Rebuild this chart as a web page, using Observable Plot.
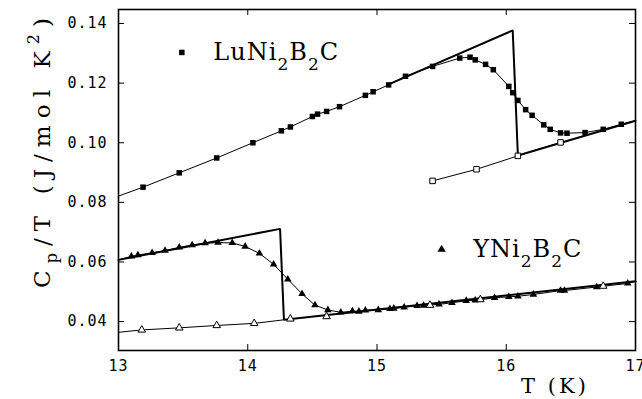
<!DOCTYPE html>
<html>
<head>
<meta charset="utf-8">
<script src="https://cdn.jsdelivr.net/npm/d3@7"></script>
<script src="https://cdn.jsdelivr.net/npm/@observablehq/plot@0.6"></script>
<style>
  body { margin: 0; background: #fff; }
</style>
</head>
<body>
<div id="chart"></div>
<script>
// Specific heat C_p/T (J/mol K^2) versus temperature T (K)

// LuNi2B2C, superconducting-state data (filled squares)
const luT  = [13.19, 13.47, 13.76, 14.04, 14.26, 14.33, 14.50, 14.54, 14.61, 14.71, 14.91, 14.97, 15.09, 15.22, 15.43, 15.64, 15.72, 15.76, 15.84, 15.90, 16.02, 16.05, 16.09, 16.15, 16.20, 16.29, 16.34, 16.42, 16.47, 16.61, 16.75, 16.89];
const luCp = [0.0851, 0.0899, 0.0949, 0.1000, 0.1040, 0.1053, 0.1088, 0.1096, 0.1105, 0.1121, 0.1159, 0.1171, 0.1194, 0.1223, 0.1256, 0.1284, 0.1287, 0.1278, 0.1263, 0.1245, 0.1189, 0.1168, 0.1142, 0.1111, 0.1092, 0.1060, 0.1045, 0.1033, 0.1032, 0.1034, 0.1045, 0.1062];
// fitted curve values at the plot edges (T = 13 and T = 17)
const luCurveEnds = [0.0821, 0.1074];
// LuNi2B2C, normal-state data in field (open squares)
const luNT  = [15.43, 15.77, 16.09, 16.42];
const luNCp = [0.0872, 0.0911, 0.0956, 0.1001];
// LuNi2B2C, entropy-conserving idealized transition
const luIdealT  = [15.09, 16.05, 16.09, 17.0];
const luIdealCp = [0.1196, 0.1377, 0.0957, 0.1074];

// YNi2B2C, superconducting-state data (filled triangles)
const yT  = [13.10, 13.15, 13.26, 13.36, 13.47, 13.57, 13.67, 13.77, 13.88, 13.98, 14.09, 14.20, 14.31, 14.42, 14.52, 14.62, 14.72, 14.81, 14.86, 14.91, 15.01, 15.10, 15.13, 15.21, 15.31, 15.36, 15.48, 15.58, 15.69, 15.76, 15.91, 16.02, 16.09, 16.21, 16.42, 16.45, 16.70, 16.94];
const yCp = [0.0619, 0.0623, 0.0631, 0.0638, 0.0649, 0.0657, 0.0663, 0.0665, 0.0664, 0.0652, 0.0629, 0.0592, 0.0542, 0.0493, 0.0455, 0.0439, 0.0431, 0.0435, 0.0434, 0.0438, 0.0439, 0.0443, 0.0444, 0.0448, 0.0453, 0.0454, 0.0458, 0.0463, 0.0470, 0.0471, 0.0480, 0.0483, 0.0485, 0.0491, 0.0504, 0.0504, 0.0516, 0.0528];
const yCurveEnds = [0.0607, 0.0535];
// YNi2B2C, normal-state data (open triangles)
const yNT  = [13.18, 13.47, 13.76, 14.05, 14.33, 14.61, 15.41, 15.80, 16.75];
const yNCp = [0.0372, 0.0379, 0.0387, 0.0394, 0.0409, 0.0417, 0.0455, 0.0474, 0.0519];
// normal-state fit below Tc
const yNLineT  = [13.0, 13.18, 13.47, 13.76, 14.05, 14.28];
const yNLineCp = [0.0364, 0.0372, 0.0379, 0.0387, 0.0394, 0.0406];
// YNi2B2C idealized transition
const yIdealT  = [13.0, 14.25, 14.28, 17.0];
const yIdealCp = [0.0607, 0.0711, 0.0406, 0.0535];

// axes
const xTicks = [13, 14, 15, 16, 17];
const yTicks = [0.04, 0.06, 0.08, 0.10, 0.12, 0.14];
const xDomain = [13, 17];
const yDomain = [0.0303, 0.1447];

// legend entries: compound name pieces and anchor position in data units
const legendNames = [["LuNi", "2", "B", "2", "C"], ["YNi", "2", "B", "2", "C"]];
const legendSymbols = ["square", "triangle"];
const legendT  = [13.49, 15.50];
const legendCp = [0.1303, 0.0642];

const pts = (T, C) => T.map((t, i) => ({T: t, C: C[i]}));
const withEnds = (T, C, ends) => [{T: xDomain[0], C: ends[0]}, ...pts(T, C), {T: xDomain[1], C: ends[1]}];

const W = 642, H = 399;
const mL = 118, mR = 7, mT = 9, mB = 49;
const fw = W - mL - mR, fh = H - mT - mB;
const tickLen = 6;

const legend = legendT.map((t, i) => ({T: t, C: legendCp[i], symbol: legendSymbols[i]}));

const chart = Plot.plot({
  width: W, height: H,
  marginLeft: mL, marginRight: mR, marginTop: mT, marginBottom: mB,
  style: {fontFamily: "DejaVu Sans Mono", fontSize: "15px", color: "black", background: "white", letterSpacing: "1px"},
  x: {domain: xDomain, ticks: xTicks, tickSize: 0, tickPadding: 10, tickFormat: d => String(d), label: null},
  y: {domain: yDomain, ticks: yTicks, tickSize: 0, tickPadding: 11, tickFormat: d => d.toFixed(2), label: null},
  marks: [
    // inward ticks on all four sides
    Plot.ruleX(xTicks, {x: d => d, insetTop: fh - tickLen, stroke: "black", strokeWidth: 1}),
    Plot.ruleX(xTicks, {x: d => d, insetBottom: fh - tickLen, stroke: "black", strokeWidth: 1}),
    Plot.ruleY(yTicks, {y: d => d, insetRight: fw - tickLen, stroke: "black", strokeWidth: 1}),
    Plot.ruleY(yTicks, {y: d => d, insetLeft: fw - tickLen, stroke: "black", strokeWidth: 1}),
    Plot.frame({stroke: "black", strokeWidth: 1.6}),

    // thin curves through the data
    Plot.line(withEnds(luT, luCp, luCurveEnds), {x: "T", y: "C", stroke: "black", strokeWidth: 1}),
    Plot.line(pts(luNT, luNCp), {x: "T", y: "C", stroke: "black", strokeWidth: 1}),
    Plot.line(withEnds(yT, yCp, yCurveEnds), {x: "T", y: "C", stroke: "black", strokeWidth: 1}),
    Plot.line(pts(yNLineT, yNLineCp), {x: "T", y: "C", stroke: "black", strokeWidth: 1}),

    // idealized transitions
    Plot.line(pts(luIdealT, luIdealCp), {x: "T", y: "C", stroke: "black", strokeWidth: 2, strokeLinejoin: "miter"}),
    Plot.line(pts(yIdealT, yIdealCp), {x: "T", y: "C", stroke: "black", strokeWidth: 2, strokeLinejoin: "miter"}),

    // markers
    Plot.dot(pts(luT, luCp), {x: "T", y: "C", symbol: "square", r: 3.1, fill: "black"}),
    Plot.dot(pts(luNT, luNCp), {x: "T", y: "C", symbol: "square", r: 3.1, fill: "white", stroke: "black", strokeWidth: 1}),
    Plot.dot(pts(yT, yCp), {x: "T", y: "C", symbol: "triangle", r: 2.8, fill: "black"}),
    Plot.dot(pts(yNT, yNCp), {x: "T", y: "C", symbol: "triangle", r: 2.8, fill: "white", stroke: "black", strokeWidth: 1}),

    // legend markers
    Plot.dot(legend, {x: "T", y: "C", symbol: "symbol", r: 3.1, fill: "black"})
  ]
});

document.getElementById("chart").appendChild(chart);

const svg = d3.select(chart);
const sx = chart.scale("x"), sy = chart.scale("y");

// legend labels with subscripts
legendNames.forEach((parts, i) => {
  const t = svg.append("text")
    .attr("x", sx.apply(legendT[i]) + 32)
    .attr("y", sy.apply(legendCp[i]) + 8)
    .attr("text-anchor", "start")
    .attr("font-family", "DejaVu Serif")
    .attr("font-size", 24)
    .attr("letter-spacing", "1px")
    .attr("fill", "black");
  parts.forEach((p, j) => {
    const sub = j % 2 === 1;
    t.append("tspan")
      .attr("dy", j === 0 ? 0 : (sub ? 10 : -10))
      .attr("font-size", sub ? 17 : 24)
      .text(p);
  });
});

// x-axis title
svg.append("text")
  .attr("x", 555).attr("y", 393)
  .attr("text-anchor", "middle")
  .attr("font-family", "DejaVu Serif")
  .attr("font-size", 21)
  .attr("letter-spacing", "3px")
  .attr("fill", "black")
  .text("T (K)");

// y-axis title: C_p/T (J/mol K^2)
const yt = svg.append("text")
  .attr("transform", "translate(50,153) rotate(-90)")
  .attr("text-anchor", "middle")
  .attr("font-family", "DejaVu Serif")
  .attr("font-size", 23)
  .attr("letter-spacing", "0px")
  .attr("textLength", 270)
  .attr("lengthAdjust", "spacing")
  .attr("fill", "black");
yt.append("tspan").text("C");
yt.append("tspan").attr("dy", 7).attr("font-size", 16).text("p");
yt.append("tspan").attr("dy", -7).text("/T (J/mol K");
yt.append("tspan").attr("dy", -11).attr("font-size", 16).text("2");
yt.append("tspan").attr("dy", 11).text(")");
</script>
</body>
</html>
